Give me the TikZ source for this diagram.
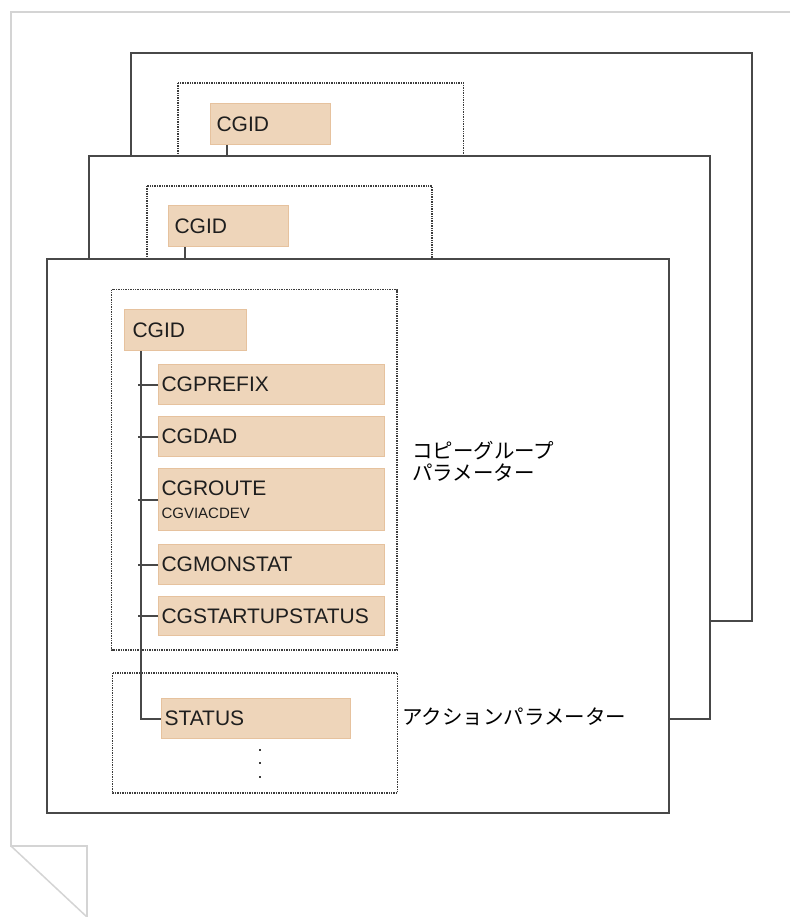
\documentclass[tikz,border=0pt]{standalone}
\usepackage{fontspec}
\setmainfont{Liberation Sans}
\newfontfamily\jpfont{Noto Sans CJK JP}
\definecolor{boxfill}{RGB}{238,213,186}
\definecolor{boxline}{RGB}{230,194,158}
\definecolor{frameline}{RGB}{72,72,72}
\definecolor{dotline}{RGB}{60,60,60}
\definecolor{pageline}{RGB}{212,212,212}
\definecolor{txt}{RGB}{30,30,30}
\tikzset{
  param/.style={draw=boxline, fill=boxfill, line width=1pt, anchor=north west,
    inner ysep=0pt, align=left, text=txt, font=\fontsize{21}{26}\selectfont},
  frame/.style={draw=frameline, line width=2pt, fill=white},
  dotbox/.style={draw=dotline, line width=1.6pt, dash pattern=on 1.4pt off 1pt},
  conn/.style={draw=frameline, line width=2pt},
  jplabel/.style={anchor=west, inner sep=0pt, align=left, text=black,
    font=\jpfont\fontsize{20.5}{22}\selectfont},
  page/.style={draw=pageline, line width=1.5pt},
}
\begin{document}
\begin{tikzpicture}[x=1pt,y=-1pt]
\useasboundingbox (0,0) rectangle (790,917);
% page outline with folded corner
\draw[page] (790,12) -- (11,12) -- (11,846) -- (87,846) -- (87,917);
\draw[page] (11,846) -- (87,917);

% back sheet
\draw[frame] (131,53) rectangle (752,621);
\draw[dotbox] (178,83) rectangle (463.5,170);
\node[param, inner xsep=6pt, text width=108pt, minimum height=41pt] (bcgid) at (210,103) {CGID};
\draw[conn] ([xshift=17pt]bcgid.south west) -- ++(0,20);

% middle sheet
\draw[frame] (89,156) rectangle (710,719);
\draw[dotbox] (147,186) rectangle (432,275);
\node[param, inner xsep=6pt, text width=108pt, minimum height=41pt] (mcgid) at (168,205) {CGID};
\draw[conn] ([xshift=17pt]mcgid.south west) -- ++(0,20);

% front sheet
\draw[frame] (47,259) rectangle (669,813);
\draw[dotbox] (111.5,289.5) rectangle (397,650);
\draw[dotbox] (112.5,673) rectangle (397.5,793);

\node[param, inner xsep=8pt, text width=106pt, minimum height=41pt] (fcgid) at (124,309) {CGID};
\node[param, inner xsep=3pt, text width=220pt, minimum height=40pt] (prefix) at (158,364) {CGPREFIX};
\node[param, inner xsep=3pt, text width=220pt, minimum height=40pt] (dad) at (158,416) {CGDAD};
\node[param, inner xsep=3pt, text width=220pt, minimum height=62pt] (route) at (158,468)
  {CGROUTE\\[-3pt]{\fontsize{15}{18}\selectfont CGVIACDEV}};
\node[param, inner xsep=3pt, text width=220pt, minimum height=40pt] (monstat) at (158,544) {CGMONSTAT};
\node[param, inner xsep=3pt, text width=220pt, minimum height=39pt] (startup) at (158,596) {CGSTARTUPSTATUS};
\node[param, inner xsep=3pt, text width=183pt, minimum height=40pt] (status) at (161,698) {STATUS};

\draw[conn] ([xshift=17pt]fcgid.south west) |- (status.west);
\foreach \n in {prefix,dad,route,monstat,startup}
  \draw[conn] (\n.west) -- ++(-20,0);

\node[inner sep=0pt, minimum width=3pt, minimum height=30pt] (dots) at (260,762) {};
\foreach \yy in {749,762,776}
  \fill[dotline] (259,\yy) rectangle ++(2.2,1.8);

\node[jplabel] (cglabel) at (412,461) {コピーグループ\\パラメーター};
\node[jplabel] (actlabel) at (402,717) {アクションパラメーター};
\end{tikzpicture}
\end{document}
